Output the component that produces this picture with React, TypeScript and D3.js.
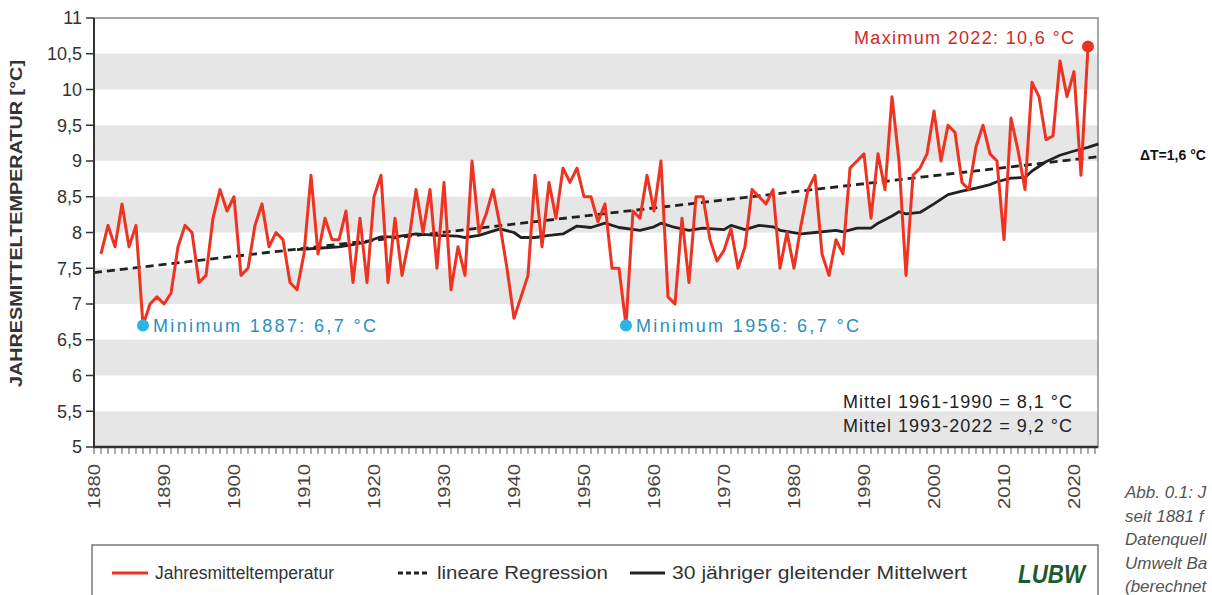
import * as d3 from "d3";

const dms = {
  width: 1212,
  height: 595,
  left: 94,
  right: 1098,
  top: 18,
  bottom: 447,
};

// Jahresmittel Baden-Württemberg, 1881-2022
const firstYear = 1881;
const temps = [
  7.7, 8.1, 7.8, 8.4, 7.8, 8.1, 6.7, 7.0, 7.1, 7.0,
  7.15, 7.8, 8.1, 8.0, 7.3, 7.4, 8.2, 8.6, 8.3, 8.5,
  7.4, 7.5, 8.1, 8.4, 7.8, 8.0, 7.9, 7.3, 7.2, 7.7,
  8.8, 7.7, 8.2, 7.9, 7.9, 8.3, 7.3, 8.2, 7.3, 8.5,
  8.8, 7.3, 8.2, 7.4, 7.9, 8.6, 8.0, 8.6, 7.5, 8.7,
  7.2, 7.8, 7.4, 9.0, 8.0, 8.25, 8.6, 8.1, 7.5, 6.8,
  7.1, 7.4, 8.8, 7.8, 8.7, 8.2, 8.9, 8.7, 8.9, 8.5,
  8.5, 8.15, 8.4, 7.5, 7.5, 6.7, 8.3, 8.2, 8.8, 8.3,
  9.0, 7.1, 7.0, 8.2, 7.3, 8.5, 8.5, 7.9, 7.6, 7.75,
  8.05, 7.5, 7.8, 8.6, 8.5, 8.4, 8.6, 7.5, 8.0, 7.5,
  8.1, 8.6, 8.8, 7.7, 7.4, 7.9, 7.7, 8.9, 9.0, 9.1,
  8.2, 9.1, 8.6, 9.9, 9.0, 7.4, 8.8, 8.9, 9.1, 9.7,
  9.0, 9.5, 9.4, 8.7, 8.6, 9.2, 9.5, 9.1, 9.0, 7.9,
  9.6, 9.15, 8.6, 10.1, 9.9, 9.3, 9.35, 10.4, 9.9, 10.25,
  8.8, 10.6,
];

// 30-jähriger gleitender Mittelwert
const maYears = [
  1909, 1912, 1915, 1917, 1919, 1921, 1923, 1926, 1929, 1932, 1933, 1935,
  1938, 1940, 1941, 1943, 1945, 1947, 1949, 1951, 1953, 1955, 1958, 1960,
  1961, 1963, 1965, 1967, 1970, 1971, 1973, 1975, 1977, 1978, 1981, 1983,
  1986, 1987, 1989, 1991, 1992, 1994, 1995, 1996, 1998, 2000, 2002, 2004,
  2006, 2008, 2009, 2011, 2013, 2014, 2016, 2018, 2020, 2022, 2023.5,
];
const maValues = [
  7.76, 7.78, 7.8, 7.83, 7.87, 7.94, 7.94, 7.98, 7.96, 7.95, 7.93, 7.96,
  8.05, 8.0, 7.93, 7.93, 7.96, 7.98, 8.09, 8.07, 8.13, 8.07, 8.03, 8.08,
  8.13, 8.07, 8.03, 8.06, 8.04, 8.1, 8.04, 8.1, 8.08, 8.03, 7.98, 8.0,
  8.03, 8.01, 8.06, 8.06, 8.13, 8.23, 8.29, 8.26, 8.28, 8.4, 8.53, 8.58,
  8.62, 8.67, 8.71, 8.76, 8.77, 8.86, 8.99, 9.08, 9.14, 9.19, 9.24,
];

// lineare Regression (Endpunkte)
const regYears = [1880, 2023.5];
const regValues = [7.44, 9.06];

const yTicks = [5, 5.5, 6, 6.5, 7, 7.5, 8, 8.5, 9, 9.5, 10, 10.5, 11];
const decades = d3.range(1880, 2021, 10);
const bands: [number, number][] = [
  [10, 10.5], [9, 9.5], [8, 8.5], [7, 7.5], [6, 6.5], [5, 5.5],
];

const minima = [
  { year: 1887, value: 6.7, label: "Minimum 1887: 6,7 °C" },
  { year: 1956, value: 6.7, label: "Minimum 1956: 6,7 °C" },
];
const maximum = { year: 2022, value: 10.6, label: "Maximum 2022: 10,6 °C" };

// Bildunterschrift, im Original am Rand abgeschnitten
const caption = ["Abb. 0.1: J", "seit 1881 f", "Datenquell", "Umwelt Ba", "(berechnet"];

const RED = "#ee3322";
const BLUE = "#2c8fbd";
const DOT_BLUE = "#2bb5e6";
const font = "'Liberation Sans', Arial, sans-serif";

const fmt = (v: number) => String(v).replace(".", ",");

const App = () => {
  const x = d3.scaleLinear().domain([1880, 2023.43]).range([dms.left, dms.right]);
  const y = d3.scaleLinear().domain([5, 11]).range([dms.bottom, dms.top]);

  const tempPts = temps.map((v, i) => [firstYear + i, v] as [number, number]);
  const line = d3
    .line<[number, number]>()
    .x((d) => x(d[0]))
    .y((d) => y(d[1]));
  const maPts = maYears.map((yr, i) => [yr, maValues[i]] as [number, number]);
  const regPts = regYears.map((yr, i) => [yr, regValues[i]] as [number, number]);
  const years = d3.range(1880, 2024);

  return (
    <svg
      width={dms.width}
      height={dms.height}
      style={{ position: "absolute", left: 0, top: 0, background: "#fff" }}
      fontFamily={font}
    >
      {/* bands */}
      {bands.map(([a, b]) => (
        <rect
          key={a}
          x={dms.left}
          width={dms.right - dms.left}
          y={y(b)}
          height={y(a) - y(b)}
          fill="#e6e6e6"
        />
      ))}
      {/* frame */}
      <rect
        x={dms.left}
        y={dms.top}
        width={dms.right - dms.left}
        height={dms.bottom - dms.top}
        fill="none"
        stroke="#8a8a8a"
        strokeWidth={1.5}
      />

      {/* regression */}
      <path d={line(regPts) ?? ""} fill="none" stroke="#222" strokeWidth={2.8} strokeDasharray="8,5" />
      {/* moving average */}
      <path d={line(maPts) ?? ""} fill="none" stroke="#222" strokeWidth={2.8} strokeLinejoin="round" />
      {/* annual */}
      <path d={line(tempPts) ?? ""} fill="none" stroke={RED} strokeWidth={3} strokeLinejoin="round" />

      {/* y axis */}
      <line x1={dms.left} x2={dms.left} y1={dms.top} y2={dms.bottom + 1} stroke="#333" strokeWidth={2} />
      {yTicks.map((t) => (
        <g key={t} transform={`translate(0,${y(t)})`}>
          <line x1={dms.left - 8} x2={dms.left} stroke="#333" strokeWidth={1.5} />
          <text x={82} dy="0.35em" textAnchor="end" fontSize={18} fill="#333">
            {fmt(t)}
          </text>
        </g>
      ))}
      <text
        transform={`translate(22,${(60 + 387) / 2}) rotate(-90)`}
        textAnchor="middle"
        fontSize={16}
        fontWeight="bold"
        fill="#333"
        textLength={327}
        lengthAdjust="spacingAndGlyphs"
      >
        JAHRESMITTELTEMPERATUR [°C]
      </text>

      {/* x axis */}
      <line x1={dms.left - 1} x2={dms.right} y1={dms.bottom} y2={dms.bottom} stroke="#333" strokeWidth={2.5} />
      {years.map((yr) => (
        <line
          key={yr}
          x1={x(yr)}
          x2={x(yr)}
          y1={dms.bottom + 1}
          y2={dms.bottom + 7}
          stroke="#555"
          strokeWidth={1}
        />
      ))}
      {decades.map((yr) => (
        <text
          key={yr}
          transform={`translate(${x(yr) + 6},${509}) rotate(-90)`}
          fontSize={17}
          fill="#444"
          textLength={45}
          lengthAdjust="spacingAndGlyphs"
        >
          {yr}
        </text>
      ))}

      {/* annotations */}
      {minima.map((m) => (
        <g key={m.year}>
          <circle cx={x(m.year)} cy={y(m.value)} r={6} fill={DOT_BLUE} />
          <text
            x={x(m.year) + 10}
            y={y(m.value) + 7}
            fontSize={18}
            fill={BLUE}
            textLength={223}
            lengthAdjust="spacing"
          >
            {m.label}
          </text>
        </g>
      ))}
      <circle cx={x(maximum.year)} cy={y(maximum.value)} r={6} fill={RED} />
      <text
        x={x(maximum.year) - 14}
        y={y(maximum.value) - 3}
        textAnchor="end"
        fontSize={18}
        fill="#d02a26"
        textLength={220}
        lengthAdjust="spacing"
      >
        {maximum.label}
      </text>
      <text x={1072} y={408} textAnchor="end" fontSize={18} fill="#222" textLength={229} lengthAdjust="spacing">
        Mittel 1961-1990 = 8,1 °C
      </text>
      <text x={1072} y={432} textAnchor="end" fontSize={18} fill="#222" textLength={229} lengthAdjust="spacing">
        Mittel 1993-2022 = 9,2 °C
      </text>

      {/* delta */}
      <text x={1140} y={160} fontSize={14} fontWeight="bold" fill="#111">
        ΔT=1,6 °C
      </text>

      {/* legend */}
      <rect x={92} y={545} width={1006} height={70} fill="#fff" stroke="#777" strokeWidth={1.5} />
      <line x1={112} x2={148} y1={573} y2={573} stroke={RED} strokeWidth={3} />
      <text x={155} y={579} fontSize={17.5} fill="#333">
        Jahresmitteltemperatur
      </text>
      <line x1={398} x2={430} y1={573} y2={573} stroke="#222" strokeWidth={3} strokeDasharray="5,3" />
      <text x={437} y={579} fontSize={18} fill="#333" textLength={171} lengthAdjust="spacingAndGlyphs">
        lineare Regression
      </text>
      <line x1={630} x2={665} y1={573} y2={573} stroke="#222" strokeWidth={3} />
      <text x={672} y={579} fontSize={18} fill="#333" textLength={295} lengthAdjust="spacingAndGlyphs">
        30 jähriger gleitender Mittelwert
      </text>
      <text
        x={1018}
        y={583}
        fontSize={25}
        fontWeight="900"
        fontStyle="italic"
        fill="#1e5b2c"
        textLength={67}
        lengthAdjust="spacingAndGlyphs"
      >
        LUBW
      </text>

      {/* caption */}
      {caption.map((c, i) => (
        <text key={i} x={1125} y={498 + i * 23.5} fontSize={17} fontStyle="italic" fill="#555">
          {c}
        </text>
      ))}
    </svg>
  );
};

export default App;
